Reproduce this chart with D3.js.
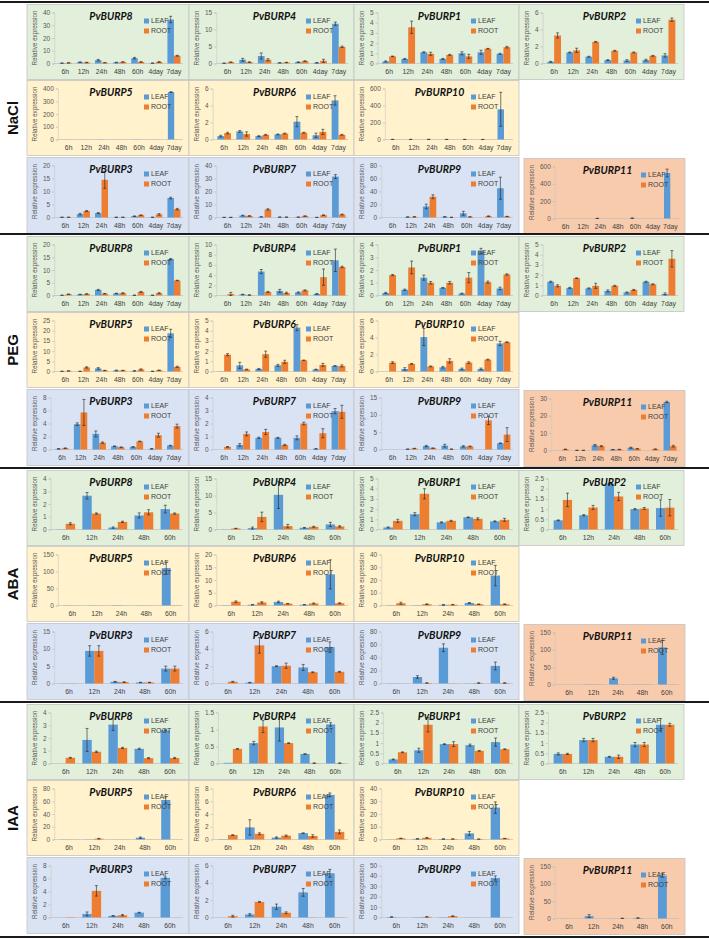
<!DOCTYPE html>
<html><head><meta charset="utf-8">
<script src="https://cdn.jsdelivr.net/npm/d3@7"></script>
<style>body{margin:0;background:#fff}svg{display:block}</style>
</head><body><svg id="c" width="709" height="939"></svg>
<script>
// ---------- categories ----------
const timesLong = ["6h","12h","24h","48h","60h","4day","7day"];
const timesShort = ["6h","12h","24h","48h","60h"];
const treatments = ["NaCl","PEG","ABA","IAA"];
const seriesNames = ["LEAF","ROOT"];

// ---------- NaCl ----------
const NaCl_P8_L=[0.3,1.0,2.6,0.8,4.2,0.3,34.5], NaCl_P8_Le=[0.1,0.3,0.6,0.2,0.6,0.1,2.5];
const NaCl_P8_R=[0.5,0.8,0.6,1.2,1.2,1.2,6.1], NaCl_P8_Re=[0.1,0.2,0.1,0.2,0.2,0.3,0.3];
const NaCl_P8_T=[0,10,20,30,40];
const NaCl_P4_L=[0.1,1.1,2.2,0.2,0.4,0.2,11.7], NaCl_P4_Le=[0.05,0.4,0.9,0.05,0.1,0.1,0.5];
const NaCl_P4_R=[0.4,0.4,1.1,0.3,0.7,0.8,4.9], NaCl_P4_Re=[0.05,0.1,0.3,0.05,0.1,0.45,0.2];
const NaCl_P4_T=[0,5,10,15];
const NaCl_P1_L=[0.2,0.45,1.1,0.45,1.0,1.1,0.95], NaCl_P1_Le=[0.05,0.05,0.05,0.05,0.15,0.2,0.05];
const NaCl_P1_R=[0.7,3.55,0.95,0.85,0.7,1.45,1.6], NaCl_P1_Re=[0.03,0.6,0.15,0.05,0.2,0.03,0.08];
const NaCl_P1_T=[0,1,2,3,4,5];
const NaCl_P2_L=[0.2,1.3,0.8,0.4,0.35,0.4,0.95], NaCl_P2_Le=[0.05,0.05,0.05,0.05,0.1,0.1,0.2];
const NaCl_P2_R=[3.3,1.55,2.55,1.5,1.3,0.9,5.15], NaCl_P2_Re=[0.3,0.25,0.05,0.05,0.05,0.05,0.2];
const NaCl_P2_T=[0,2,4,6];
const NaCl_P5_L=[0.3,0.2,1.5,0.2,1.5,0.2,372], NaCl_P5_Le=[0,0,0,0,0,0,3];
const NaCl_P5_R=[0.2,0.2,0.2,0.2,0.2,0.2,0.8], NaCl_P5_Re=[0,0,0,0,0,0,0];
const NaCl_P5_T=[0,100,200,300,400];
const NaCl_P6_L=[0.4,0.95,0.4,0.6,2.1,0.5,4.6], NaCl_P6_Le=[0.1,0.1,0.05,0.05,0.6,0.25,0.55];
const NaCl_P6_R=[0.75,0.65,0.55,0.7,0.8,0.9,0.55], NaCl_P6_Re=[0.1,0.25,0.05,0.05,0.05,0.3,0.05];
const NaCl_P6_T=[0,2,4,6];
const NaCl_P10_L=[1,1,1.5,1,1,0.5,355], NaCl_P10_Le=[0.5,0.5,0.5,0.3,0.3,0.2,200];
const NaCl_P10_R=[0.8,0.8,0.8,0.8,0.8,0.8,1], NaCl_P10_Re=[0,0,0,0,0,0,0];
const NaCl_P10_T=[0,200,400,600];
const NaCl_P3_L=[0.1,1.3,1.7,0.1,0.5,0.1,7.5], NaCl_P3_Le=[0.05,0.3,0.2,0.05,0.1,0.05,0.3];
const NaCl_P3_R=[0.1,2.5,14.5,0.1,0.9,1.2,3.2], NaCl_P3_Re=[0.05,0.2,3.3,0.05,0.1,0.3,0.3];
const NaCl_P3_T=[0,5,10,15,20];
const NaCl_P7_L=[0.1,1.5,0.5,0.3,0.3,0.1,31.5], NaCl_P7_Le=[0.05,0.3,0.1,0.1,0.1,0.05,1.5];
const NaCl_P7_R=[0.1,1.2,6.2,0.3,1.1,1.8,2.3], NaCl_P7_Re=[0.05,0.2,0.5,0.05,0.2,0.2,0.3];
const NaCl_P7_T=[0,10,20,30,40];
const NaCl_P9_L=[0,0.8,17,1,6.5,0,45], NaCl_P9_Le=[0,0.3,3.5,0.5,3,0,17];
const NaCl_P9_R=[0,1.0,32,0.3,1,2,1.5], NaCl_P9_Re=[0,0.3,3,0.1,0.2,0.5,0.3];
const NaCl_P9_T=[0,20,40,60,80];
const NaCl_P11_L=[0,0,1,0,3,0,525], NaCl_P11_Le=[0,0,1,0,4,0,45];
const NaCl_P11_R=[0,0,0,0,0,0,0], NaCl_P11_Re=[0,0,0,0,0,0,0];
const NaCl_P11_T=[0,200,400,600];

// ---------- PEG ----------
const PEG_P8_L=[0.1,0.4,2.2,0.8,0.1,0.1,14.3], PEG_P8_Le=[0.05,0.1,0.2,0.1,0.05,0.05,0.2];
const PEG_P8_R=[0.5,0.6,0.7,0.9,1.4,0.9,5.9], PEG_P8_Re=[0.1,0.1,0.1,0.2,0.2,0.2,0.1];
const PEG_P8_T=[0,5,10,15,20];
const PEG_P4_L=[0,0.2,4.7,0.9,0.6,0.3,6.9], PEG_P4_Le=[0,0.05,0.4,0.3,0.1,0.1,2.2];
const PEG_P4_R=[0.3,0.1,0.7,0.5,1.0,3.6,5.6], PEG_P4_Re=[0.3,0.05,0.1,0.15,0.1,1.6,0.15];
const PEG_P4_T=[0,2,4,6,8,10];
const PEG_P1_L=[0.2,0.45,1.4,0.6,0.15,3.5,0.55], PEG_P1_Le=[0.05,0.05,0.2,0.03,0.03,0.2,0.1];
const PEG_P1_R=[1.6,2.2,1.0,1.0,1.4,1.05,1.65], PEG_P1_Re=[0.05,0.5,0.1,0.1,0.4,0.08,0.05];
const PEG_P1_T=[0,1,2,3,4];
const PEG_P2_L=[1.35,0.75,0.7,0.45,0.3,1.35,0.15], PEG_P2_Le=[0.05,0.05,0.05,0.1,0.05,0.05,0.1];
const PEG_P2_R=[0.95,1.7,0.95,0.95,0.55,1.1,3.6], PEG_P2_Re=[0.1,0.03,0.25,0.05,0.05,0.05,0.8];
const PEG_P2_T=[0,1,2,3,4,5];
const PEG_P5_L=[0.1,0.1,1.5,0.5,0.3,0.1,18.7], PEG_P5_Le=[0.05,0.05,0.4,0.2,0.1,0.05,2];
const PEG_P5_R=[0.3,2.0,0.5,0.5,1.0,0.6,2.3], PEG_P5_Re=[0.05,0.3,0.1,0.1,0.3,0.1,0.3];
const PEG_P5_T=[0,5,10,15,20,25];
const PEG_P6_L=[0.02,0.6,0.25,0.6,4.3,0.2,0.55], PEG_P6_Le=[0,0.3,0.05,0.1,0.3,0.03,0.03];
const PEG_P6_R=[1.65,0.2,1.7,0.95,1.1,0.65,0.55], PEG_P6_Re=[0.1,0.03,0.3,0.15,0.03,0.15,0.1];
const PEG_P6_T=[0,1,2,3,4,5];
const PEG_P10_L=[0,0.3,4.05,0.5,0.3,0.3,3.3], PEG_P10_Le=[0,0.15,1.0,0.1,0.1,0.1,0.25];
const PEG_P10_R=[1.05,0.9,0.6,1.25,1.05,1.4,3.45], PEG_P10_Re=[0.1,0.05,0.05,0.25,0.1,0.05,0.05];
const PEG_P10_T=[0,2,4,6];
const PEG_P3_L=[0.1,3.9,2.4,0.5,0.4,0.1,0.6], PEG_P3_Le=[0.05,0.2,0.45,0.05,0.05,0.05,0.05];
const PEG_P3_R=[0.2,5.7,1.05,0.35,1.25,2.2,3.6], PEG_P3_Re=[0.05,2.0,0.1,0.05,0.05,0.3,0.3];
const PEG_P3_T=[0,2,4,6,8];
const PEG_P7_L=[0,0.35,0.9,0.9,0.9,0.05,2.95], PEG_P7_Le=[0,0.1,0.05,0.03,0.15,0.02,0.2];
const PEG_P7_R=[0.2,1.2,1.35,0.35,2.0,1.25,2.9], PEG_P7_Re=[0.03,0.15,0.2,0.05,0.1,0.35,0.5];
const PEG_P7_T=[0,1,2,3,4];
const PEG_P9_L=[0,0.1,1.0,1.1,0.9,0,1.8], PEG_P9_Le=[0,0.05,0.2,0.4,0.2,0,0.1];
const PEG_P9_R=[0,0.3,0.4,0.1,0.9,8.4,4.3], PEG_P9_Re=[0,0.05,0.05,0.05,0.1,1.2,2];
const PEG_P9_T=[0,5,10,15];
const PEG_P11_L=[0,0.1,3.0,0.5,1.6,0,28], PEG_P11_Le=[0,0.05,0.5,0.1,0.3,0,0.4];
const PEG_P11_R=[0.7,0.1,2.5,0.6,1.0,0.8,2.5], PEG_P11_Re=[0.1,0.05,0.3,0.1,0.1,0.1,0.5];
const PEG_P11_T=[0,10,20,30];

// ---------- ABA ----------
const ABA_P8_L=[0.02,2.65,0.15,1.1,1.6], ABA_P8_Le=[0,0.25,0.05,0.2,0.3];
const ABA_P8_R=[0.45,1.25,0.6,1.35,1.25], ABA_P8_Re=[0.08,0.05,0.05,0.2,0.05];
const ABA_P8_T=[0,1,2,3,4];
const ABA_P4_L=[0.05,0.4,10.2,0.5,1.5], ABA_P4_Le=[0,0.3,4,0.1,0.6];
const ABA_P4_R=[0.3,3.7,1.0,0.8,0.9], ABA_P4_Re=[0.05,1.4,0.5,0.15,0.2];
const ABA_P4_T=[0,5,10,15];
const ABA_P1_L=[0.2,1.5,0.7,1.2,0.8], ABA_P1_Le=[0.05,0.15,0.05,0.03,0.05];
const ABA_P1_R=[0.85,3.5,0.85,1.05,0.95], ABA_P1_Re=[0.15,0.5,0.05,0.1,0.15];
const ABA_P1_T=[0,1,2,3,4,5];
const ABA_P2_L=[0.45,0.7,2.25,1.0,1.05], ABA_P2_Le=[0.02,0.03,0.02,0.03,0.4];
const ABA_P2_R=[1.45,1.08,1.62,1.03,1.07], ABA_P2_Re=[0.33,0.1,0.2,0.05,0.4];
const ABA_P2_T=[0,0.5,1,1.5,2,2.5];
const ABA_P5_L=[0.5,0.5,1,0.5,110], ABA_P5_Le=[0,0,0,0,18];
const ABA_P5_R=[0.3,0.3,0.3,0.3,0.5], ABA_P5_Re=[0,0,0,0,0];
const ABA_P5_T=[0,50,100,150];
const ABA_P6_L=[0.1,0.3,1.4,0.3,12.2], ABA_P6_Le=[0,0.1,0.3,0.1,5.7];
const ABA_P6_R=[1.5,1.2,0.7,0.8,0.9], ABA_P6_Re=[0.3,0.3,0.1,0.2,0.2];
const ABA_P6_T=[0,5,10,15,20];
const ABA_P10_L=[0.2,0.2,0.5,2.0,23.5], ABA_P10_Le=[0,0,0.3,0.3,8];
const ABA_P10_R=[1.8,1.0,0.6,1.0,1.0], ABA_P10_Re=[0.8,0.3,0.2,0.2,0.3];
const ABA_P10_T=[0,10,20,30,40];
const ABA_P3_L=[0.05,9.4,0.5,0.3,4.3], ABA_P3_Le=[0,1.5,0.1,0.05,0.7];
const ABA_P3_R=[0.05,9.4,0.4,0.3,4.3], ABA_P3_Re=[0,1.5,0.1,0.05,0.7];
const ABA_P3_T=[0,5,10,15];
const ABA_P7_L=[0,0.1,2.0,1.85,4.2], ABA_P7_Le=[0,0.03,0.05,0.35,0.6];
const ABA_P7_R=[0.2,4.4,2.05,1.3,1.35], ABA_P7_Re=[0.05,0.9,0.3,0.05,0.05];
const ABA_P7_T=[0,2,4,6];
const ABA_P9_L=[0.3,10,55,0.3,27], ABA_P9_Le=[0,2,6,0,6];
const ABA_P9_R=[0.2,0.8,0.3,0.8,0.8], ABA_P9_Re=[0,0.3,0,0.3,0.3];
const ABA_P9_T=[0,20,40,60,80];
const ABA_P11_L=[0,0.5,18,0.5,107], ABA_P11_Le=[0,0,3,0,20];
const ABA_P11_R=[0,0.5,0.3,0.5,0.3], ABA_P11_Re=[0,0,0,0,0];
const ABA_P11_T=[0,50,100,150];

// ---------- IAA ----------
const IAA_P8_L=[0,1.85,3.05,1.15,2.6], IAA_P8_Le=[0,0.9,0.45,0.05,0.05];
const IAA_P8_R=[0.45,0.92,1.22,0.42,0.43], IAA_P8_Re=[0.03,0.05,0.05,0.05,0.05];
const IAA_P8_T=[0,1,2,3,4];
const IAA_P4_L=[0.02,0.6,1.06,0.28,1.15], IAA_P4_Le=[0,0.05,0.4,0.01,0.05];
const IAA_P4_R=[0.43,1.09,0.6,0.01,0.01], IAA_P4_Re=[0.01,0.18,0.01,0.01,0.01];
const IAA_P4_T=[0,0.5,1,1.5];
const IAA_P1_L=[0.2,0.65,0.95,0.9,1.05], IAA_P1_Le=[0.02,0.1,0.02,0.05,0.2];
const IAA_P1_R=[0.55,1.9,0.95,0.62,0.7], IAA_P1_Re=[0.02,0.35,0.12,0.02,0.02];
const IAA_P1_T=[0,0.5,1,1.5,2,2.5];
const IAA_P2_L=[0.47,1.15,0.33,0.93,1.9], IAA_P2_Le=[0.05,0.08,0.02,0.1,0.3];
const IAA_P2_R=[0.47,1.15,0.33,0.93,1.9], IAA_P2_Re=[0.03,0.08,0.08,0.1,0.07];
const IAA_P2_T=[0,0.5,1,1.5,2,2.5];
const IAA_P5_L=[0.2,0.3,0.1,2.8,62], IAA_P5_Le=[0,0,0,1,5];
const IAA_P5_R=[0.2,1.3,0.1,0.1,0.1], IAA_P5_Re=[0,0.5,0,0,0];
const IAA_P5_T=[0,20,40,60,80];
const IAA_P6_L=[0.05,1.9,0.3,1.0,7.0], IAA_P6_Le=[0,1.2,0.1,0.05,0.3];
const IAA_P6_R=[0.7,0.9,0.6,0.55,1.2], IAA_P6_Re=[0.05,0.15,0.1,0.2,0.3];
const IAA_P6_T=[0,2,4,6,8];
const IAA_P10_L=[0.1,0.5,0.4,4.8,25], IAA_P10_Le=[0,0.2,0.2,1.5,4.5];
const IAA_P10_R=[0.9,1.3,0.4,0.3,0.8], IAA_P10_Re=[0.1,0.3,0.1,0.1,0.1];
const IAA_P10_T=[0,10,20,30,40];
const IAA_P3_L=[0,0.55,0.25,0.75,6.1], IAA_P3_Le=[0,0.3,0.05,0.05,0.15];
const IAA_P3_R=[0.05,4.1,0.35,0,0], IAA_P3_Re=[0,0.8,0.1,0,0];
const IAA_P3_T=[0,2,4,6,8];
const IAA_P7_L=[0,0.35,1.25,2.9,5.1], IAA_P7_Le=[0,0.1,0.3,0.45,0.45];
const IAA_P7_R=[0.15,1.8,0.55,0.02,0.02], IAA_P7_Re=[0.1,0.05,0.1,0,0];
const IAA_P7_T=[0,2,4,6];
const IAA_P9_L=[0.5,0.3,0.3,0.1,38], IAA_P9_Le=[0.2,0,0,0,2];
const IAA_P9_R=[0.1,0.6,1.3,0.1,0.1], IAA_P9_Re=[0,0.2,0.3,0,0];
const IAA_P9_T=[0,10,20,30,40,50];
const IAA_P11_L=[0.3,7,0.3,1.5,124], IAA_P11_Le=[0,4,0,0.5,5];
const IAA_P11_R=[0,0,0.5,0,0], IAA_P11_Re=[0,0,0.3,0,0];
const IAA_P11_T=[0,50,100,150];

// panel grid: gene per [row][col]
const geneGrid = [["PvBURP8","PvBURP4","PvBURP1","PvBURP2"],
                  ["PvBURP5","PvBURP6","PvBURP10"],
                  ["PvBURP3","PvBURP7","PvBURP9","PvBURP11"]];

const dataSets = {NaCl:{}, PEG:{}, ABA:{}, IAA:{}};
function reg(t, g, L, Le, R, Re, T){ dataSets[t][g] = {L, Le, R, Re, T}; }
reg("NaCl","PvBURP8",NaCl_P8_L,NaCl_P8_Le,NaCl_P8_R,NaCl_P8_Re,NaCl_P8_T);
reg("NaCl","PvBURP4",NaCl_P4_L,NaCl_P4_Le,NaCl_P4_R,NaCl_P4_Re,NaCl_P4_T);
reg("NaCl","PvBURP1",NaCl_P1_L,NaCl_P1_Le,NaCl_P1_R,NaCl_P1_Re,NaCl_P1_T);
reg("NaCl","PvBURP2",NaCl_P2_L,NaCl_P2_Le,NaCl_P2_R,NaCl_P2_Re,NaCl_P2_T);
reg("NaCl","PvBURP5",NaCl_P5_L,NaCl_P5_Le,NaCl_P5_R,NaCl_P5_Re,NaCl_P5_T);
reg("NaCl","PvBURP6",NaCl_P6_L,NaCl_P6_Le,NaCl_P6_R,NaCl_P6_Re,NaCl_P6_T);
reg("NaCl","PvBURP10",NaCl_P10_L,NaCl_P10_Le,NaCl_P10_R,NaCl_P10_Re,NaCl_P10_T);
reg("NaCl","PvBURP3",NaCl_P3_L,NaCl_P3_Le,NaCl_P3_R,NaCl_P3_Re,NaCl_P3_T);
reg("NaCl","PvBURP7",NaCl_P7_L,NaCl_P7_Le,NaCl_P7_R,NaCl_P7_Re,NaCl_P7_T);
reg("NaCl","PvBURP9",NaCl_P9_L,NaCl_P9_Le,NaCl_P9_R,NaCl_P9_Re,NaCl_P9_T);
reg("NaCl","PvBURP11",NaCl_P11_L,NaCl_P11_Le,NaCl_P11_R,NaCl_P11_Re,NaCl_P11_T);
reg("PEG","PvBURP8",PEG_P8_L,PEG_P8_Le,PEG_P8_R,PEG_P8_Re,PEG_P8_T);
reg("PEG","PvBURP4",PEG_P4_L,PEG_P4_Le,PEG_P4_R,PEG_P4_Re,PEG_P4_T);
reg("PEG","PvBURP1",PEG_P1_L,PEG_P1_Le,PEG_P1_R,PEG_P1_Re,PEG_P1_T);
reg("PEG","PvBURP2",PEG_P2_L,PEG_P2_Le,PEG_P2_R,PEG_P2_Re,PEG_P2_T);
reg("PEG","PvBURP5",PEG_P5_L,PEG_P5_Le,PEG_P5_R,PEG_P5_Re,PEG_P5_T);
reg("PEG","PvBURP6",PEG_P6_L,PEG_P6_Le,PEG_P6_R,PEG_P6_Re,PEG_P6_T);
reg("PEG","PvBURP10",PEG_P10_L,PEG_P10_Le,PEG_P10_R,PEG_P10_Re,PEG_P10_T);
reg("PEG","PvBURP3",PEG_P3_L,PEG_P3_Le,PEG_P3_R,PEG_P3_Re,PEG_P3_T);
reg("PEG","PvBURP7",PEG_P7_L,PEG_P7_Le,PEG_P7_R,PEG_P7_Re,PEG_P7_T);
reg("PEG","PvBURP9",PEG_P9_L,PEG_P9_Le,PEG_P9_R,PEG_P9_Re,PEG_P9_T);
reg("PEG","PvBURP11",PEG_P11_L,PEG_P11_Le,PEG_P11_R,PEG_P11_Re,PEG_P11_T);
reg("ABA","PvBURP8",ABA_P8_L,ABA_P8_Le,ABA_P8_R,ABA_P8_Re,ABA_P8_T);
reg("ABA","PvBURP4",ABA_P4_L,ABA_P4_Le,ABA_P4_R,ABA_P4_Re,ABA_P4_T);
reg("ABA","PvBURP1",ABA_P1_L,ABA_P1_Le,ABA_P1_R,ABA_P1_Re,ABA_P1_T);
reg("ABA","PvBURP2",ABA_P2_L,ABA_P2_Le,ABA_P2_R,ABA_P2_Re,ABA_P2_T);
reg("ABA","PvBURP5",ABA_P5_L,ABA_P5_Le,ABA_P5_R,ABA_P5_Re,ABA_P5_T);
reg("ABA","PvBURP6",ABA_P6_L,ABA_P6_Le,ABA_P6_R,ABA_P6_Re,ABA_P6_T);
reg("ABA","PvBURP10",ABA_P10_L,ABA_P10_Le,ABA_P10_R,ABA_P10_Re,ABA_P10_T);
reg("ABA","PvBURP3",ABA_P3_L,ABA_P3_Le,ABA_P3_R,ABA_P3_Re,ABA_P3_T);
reg("ABA","PvBURP7",ABA_P7_L,ABA_P7_Le,ABA_P7_R,ABA_P7_Re,ABA_P7_T);
reg("ABA","PvBURP9",ABA_P9_L,ABA_P9_Le,ABA_P9_R,ABA_P9_Re,ABA_P9_T);
reg("ABA","PvBURP11",ABA_P11_L,ABA_P11_Le,ABA_P11_R,ABA_P11_Re,ABA_P11_T);
reg("IAA","PvBURP8",IAA_P8_L,IAA_P8_Le,IAA_P8_R,IAA_P8_Re,IAA_P8_T);
reg("IAA","PvBURP4",IAA_P4_L,IAA_P4_Le,IAA_P4_R,IAA_P4_Re,IAA_P4_T);
reg("IAA","PvBURP1",IAA_P1_L,IAA_P1_Le,IAA_P1_R,IAA_P1_Re,IAA_P1_T);
reg("IAA","PvBURP2",IAA_P2_L,IAA_P2_Le,IAA_P2_R,IAA_P2_Re,IAA_P2_T);
reg("IAA","PvBURP5",IAA_P5_L,IAA_P5_Le,IAA_P5_R,IAA_P5_Re,IAA_P5_T);
reg("IAA","PvBURP6",IAA_P6_L,IAA_P6_Le,IAA_P6_R,IAA_P6_Re,IAA_P6_T);
reg("IAA","PvBURP10",IAA_P10_L,IAA_P10_Le,IAA_P10_R,IAA_P10_Re,IAA_P10_T);
reg("IAA","PvBURP3",IAA_P3_L,IAA_P3_Le,IAA_P3_R,IAA_P3_Re,IAA_P3_T);
reg("IAA","PvBURP7",IAA_P7_L,IAA_P7_Le,IAA_P7_R,IAA_P7_Re,IAA_P7_T);
reg("IAA","PvBURP9",IAA_P9_L,IAA_P9_Le,IAA_P9_R,IAA_P9_Re,IAA_P9_T);
reg("IAA","PvBURP11",IAA_P11_L,IAA_P11_Le,IAA_P11_R,IAA_P11_Re,IAA_P11_T);

// ---------- layout / style ----------
const svg = d3.select("#c");
const W = 709;
const lineYs = [2, 234, 468, 702, 937];
const rowOff = [2.5, 78.5, 155.5], rowH = [75, 75, 76];
const colX = [27, 189, 354, 519], colW = [162, 165, 165, 165];
const rowFill = ["#e2efda", "#fff2cc", "#dae3f3"];
const salmon = "#f8cbad";
const leafC = "#5b9bd5", rootC = "#ed7d31";
const narrow = "'Liberation Sans Narrow','Arial Narrow','Liberation Sans',Arial,sans-serif";

svg.append("rect").attr("width", W).attr("height", 939).attr("fill", "#fff");

// measure helper
const meas = svg.append("text").attr("font-family", narrow).attr("font-size", 6.5).attr("opacity", 0);
function tw(s){ meas.text(s); return meas.node().getComputedTextLength(); }

treatments.forEach((t, si) => {
  const cats = si < 2 ? timesLong : timesShort;
  const sTop = lineYs[si];
  geneGrid.forEach((genes, ri) => {
    genes.forEach((gene, ci) => {
      const d = dataSets[t][gene];
      let x0 = colX[ci], w = colW[ci], y0 = sTop + rowOff[ri], h = rowH[ri], fill = rowFill[ri];
      if (ri === 2 && ci === 3) { x0 = 524; w = 161; y0 += 1; fill = salmon; }
      const g = svg.append("g");
      g.append("rect").attr("x", x0).attr("y", y0).attr("width", w).attr("height", h)
        .attr("fill", fill).attr("stroke", "#c3c3c3").attr("stroke-width", 0.8);

      const ticks = d.T;
      const ymax = ticks[ticks.length - 1];
      const lw = d3.max(ticks, v => tw(String(v)));
      const left = x0 + 22 + lw, right = x0 + w - 6;
      const top = y0 + 8, bottom = y0 + h - 16;

      const x = d3.scaleBand().domain(cats).range([left, right]).paddingInner(0.28).paddingOuter(0.14);
      const xs = d3.scaleBand().domain(seriesNames).range([0, x.bandwidth()]);
      const y = d3.scaleLinear().domain([0, ymax]).range([bottom, top]);

      // y axis
      const ya = g.append("g").attr("transform", `translate(${left - 2},0)`)
        .call(d3.axisLeft(y).tickValues(ticks).tickSize(2).tickPadding(2).tickFormat(v => String(v)));
      ya.select(".domain").attr("stroke", "#c8c8c8").attr("stroke-width", 0.6);
      ya.selectAll(".tick line").attr("stroke", "#b0b0b0").attr("stroke-width", 0.6);
      ya.selectAll("text").attr("font-family", narrow).attr("font-size", 6.5).attr("fill", "#595959");

      // x axis
      const xa = g.append("g").attr("transform", `translate(0,${bottom})`)
        .call(d3.axisBottom(x).tickSize(0).tickPadding(6));
      xa.select(".domain").attr("stroke", "#c0c0c0").attr("stroke-width", 0.7)
        .attr("d", `M${left - 2},0H${right}`);
      xa.selectAll("text").attr("font-family", narrow).attr("font-size", 6.8).attr("fill", "#404040");

      // bars
      const series = [
        {name: "LEAF", v: d.L, e: d.Le, c: leafC},
        {name: "ROOT", v: d.R, e: d.Re, c: rootC}
      ];
      series.forEach(s => {
        const recs = cats.map((c, i) => ({c, v: s.v[i], e: s.e[i]}));
        g.append("g").selectAll("rect").data(recs).join("rect")
          .attr("x", r => x(r.c) + xs(s.name))
          .attr("width", xs.bandwidth())
          .attr("y", r => y(r.v))
          .attr("height", r => Math.max(0, bottom - y(r.v)))
          .attr("fill", s.c);
        const eg = g.append("g").attr("stroke", "#222").attr("stroke-width", 0.6);
        recs.filter(r => r.e > 0).forEach(r => {
          const cx = x(r.c) + xs(s.name) + xs.bandwidth() / 2;
          const y1 = y(r.v + r.e), y2 = y(Math.max(0, r.v - r.e));
          eg.append("line").attr("x1", cx).attr("x2", cx).attr("y1", y1).attr("y2", y2);
          eg.append("line").attr("x1", cx - 1.5).attr("x2", cx + 1.5).attr("y1", y1).attr("y2", y1);
          eg.append("line").attr("x1", cx - 1.5).attr("x2", cx + 1.5).attr("y1", y2).attr("y2", y2);
        });
      });

      // y title
      g.append("text").attr("transform", `translate(${x0 + 8},${(top + bottom) / 2}) rotate(-90)`)
        .attr("text-anchor", "middle").attr("dominant-baseline", "middle")
        .attr("font-family", narrow).attr("font-size", 6.3).attr("fill", "#595959")
        .text("Relative expression");

      // title
      g.append("text").attr("x", x0 + w / 2 + 3).attr("y", y0 + 15)
        .attr("text-anchor", "middle").attr("font-family", "Lato,'Open Sans',sans-serif")
        .attr("font-weight", "bold").attr("font-style", "italic").attr("font-size", 10.5)
        .attr("fill", "#111").text(gene);

      // legend
      series.forEach((s, k) => {
        const ly = y0 + 17 + k * 10;
        g.append("rect").attr("x", x0 + 117).attr("y", ly - 3).attr("width", 5).attr("height", 5).attr("fill", s.c);
        g.append("text").attr("x", x0 + 124).attr("y", ly).attr("dominant-baseline", "middle")
          .attr("font-family", narrow).attr("font-size", 7).attr("fill", "#404040").text(s.name);
      });
    });
  });

  // treatment label
  svg.append("text")
    .attr("transform", `translate(14,${sTop + rowOff[1] + rowH[1] / 2}) rotate(-90)`)
    .attr("text-anchor", "middle").attr("dominant-baseline", "middle")
    .attr("font-family", "'Liberation Sans',Arial,sans-serif").attr("font-weight", "bold")
    .attr("font-size", 15).attr("fill", "#111").text(t);
});

// separator lines
svg.append("g").selectAll("line").data(lineYs).join("line")
  .attr("x1", 0).attr("x2", W).attr("y1", d => d).attr("y2", d => d)
  .attr("stroke", "#1a1a1a").attr("stroke-width", 2);
meas.remove();
</script></body></html>
